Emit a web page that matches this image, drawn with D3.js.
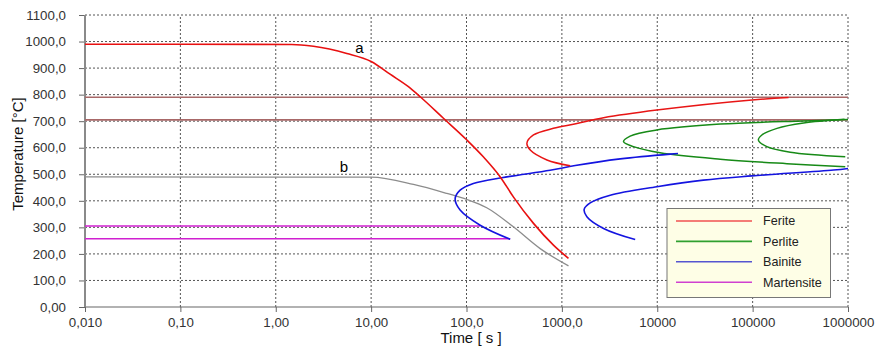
<!DOCTYPE html>
<html>
<head>
<meta charset="utf-8">
<script src="https://cdn.jsdelivr.net/npm/d3@7"></script>
<style>
  body { margin: 0; background: #fff; }
  svg { display: block; font-family: "Liberation Sans", Arial, sans-serif; }
  .grid line { stroke: #555; stroke-dasharray: 2,2; stroke-width: 1; }
  .axis text { fill: #333; font-size: 13.3px; }
  .axis path { display: none; }
  .axis line { stroke: #666; }
</style>
</head>
<body>
<svg id="chart"></svg>
<script>
// tick values and labels
var timeTicks = [0.01, 0.1, 1, 10, 100, 1000, 10000, 100000, 1000000];
var timeLabels = ['0,010', '0,10', '1,00', '10,00', '100,0', '1000,0', '10000', '100000', '1000000'];
var tempTicks = [0, 100, 200, 300, 400, 500, 600, 700, 800, 900, 1000, 1100];
var tempLabels = ['0,00', '100,0', '200,0', '300,0', '400,0', '500,0', '600,0', '700,0', '800,0', '900,0', '1000,0', '1100,0'];

// cooling curves [time s, temperature °C]
var curveA = [[0.01, 990], [1.47, 989], [2.48, 982], [5.56, 955], [10, 925],
  [15.8, 877], [24.6, 830], [32.7, 792], [57.3, 711], [101, 629], [150, 566], [225, 491],
  [310, 415], [504, 315], [816, 233], [1173, 183]];
var curveB = [[0.01, 490], [10, 489], [27.8, 462], [62.2, 428], [101, 405],
  [163, 374], [310, 302], [592, 220], [1173, 155]];

// transformation curves
var ferite = [[1222, 532], [697, 554], [466, 591], [430, 617], [504, 648], [816, 673], [1400, 690],
  [2736, 713], [9900, 742], [98400, 780], [238000, 789]];
var perlite1 = [[1000000, 706], [342000, 701], [45700, 689], [9900, 667], [5200, 644], [4430, 623],
  [5640, 604], [10700, 581], [45700, 557], [229000, 540], [936000, 528]];
var perlite2 = [[920000, 707], [342000, 693], [180000, 673], [125000, 648], [115000, 629],
  [141000, 604], [248000, 583], [936000, 566]];
var bainite1 = [[287, 255], [139, 308], [85.7, 365], [76, 407], [85.7, 440], [118, 465], [234, 487],
  [753, 515], [1380, 533], [4093, 558], [13680, 576], [16500, 578]];
var bainite2 = [[5870, 254], [2736, 296], [1829, 340], [1713, 368], [1982, 392], [3214, 421],
  [9900, 453], [30500, 478], [98400, 494], [706000, 516], [1000000, 522]];
var martensite1 = [[0.01, 305], [139, 305]];
var martensite2 = [[0.01, 257], [287, 257]];

// critical temperatures (Ac3, Ac1)
var criticalTemps = [790, 705];

var legendNames = ['Ferite', 'Perlite', 'Bainite', 'Martensite'];
var legendColors = ['#f05050', '#30a030', '#5555d0', '#d040d0'];

var width = 877, height = 352;
var margin = { left: 85, right: 29, top: 15, bottom: 45 };

var svg = d3.select('#chart').attr('width', width).attr('height', height);

var x = d3.scaleLog().domain([0.01, 1000000]).range([margin.left, width - margin.right]);
var y = d3.scaleLinear().domain([0, 1100]).range([height - margin.bottom, margin.top]);

svg.append('clipPath').attr('id', 'plot')
  .append('rect')
  .attr('x', margin.left).attr('y', margin.top)
  .attr('width', width - margin.left - margin.right)
  .attr('height', height - margin.top - margin.bottom);

// grid
var grid = svg.append('g').attr('class', 'grid');
grid.selectAll('.gx').data(timeTicks.slice(1)).enter().append('line')
  .attr('x1', function (d) { return x(d); }).attr('x2', function (d) { return x(d); })
  .attr('y1', y(0)).attr('y2', y(1100));
grid.selectAll('.gy').data(tempTicks.slice(1)).enter().append('line')
  .attr('x1', x(0.01)).attr('x2', x(1000000))
  .attr('y1', function (d) { return y(d); }).attr('y2', function (d) { return y(d); });

// axes
svg.append('g').attr('class', 'axis')
  .attr('transform', 'translate(0,' + y(0) + ')')
  .call(d3.axisBottom(x).tickValues(timeTicks).tickSize(5).tickPadding(6)
    .tickFormat(function (d, i) { return timeLabels[i]; }));
svg.append('g').attr('class', 'axis')
  .attr('transform', 'translate(' + x(0.01) + ',0)')
  .call(d3.axisLeft(y).tickValues(tempTicks).tickSize(6).tickPadding(13)
    .tickFormat(function (d, i) { return tempLabels[i]; }));

svg.append('line')
  .attr('x1', x(0.01)).attr('x2', x(1000000)).attr('y1', y(0)).attr('y2', y(0))
  .attr('stroke', '#666').attr('stroke-width', 1.2);
svg.append('line')
  .attr('x1', x(0.01)).attr('x2', x(0.01)).attr('y1', y(0)).attr('y2', y(1100))
  .attr('stroke', '#8a8a8a').attr('stroke-width', 2);

// critical lines
svg.selectAll('.crit').data(criticalTemps).enter().append('line')
  .attr('x1', x(0.01)).attr('x2', x(1000000))
  .attr('y1', function (d) { return y(d); }).attr('y2', function (d) { return y(d); })
  .attr('stroke', '#a86868').attr('stroke-width', 1.6);

// C-curves turn back on themselves, cooling curves do not
var loopLine = d3.line()
  .x(function (d) { return x(d[0]); })
  .y(function (d) { return y(d[1]); })
  .curve(d3.curveCatmullRom.alpha(0.5));
var coolLine = d3.line()
  .x(function (d) { return x(d[0]); })
  .y(function (d) { return y(d[1]); })
  .curve(d3.curveMonotoneX);

var plot = svg.append('g').attr('clip-path', 'url(#plot)');

function drawCurve(data, gen, color, w) {
  plot.append('path').datum(data)
    .attr('d', gen)
    .attr('fill', 'none')
    .attr('stroke', color)
    .attr('stroke-width', w);
}

drawCurve(curveB, coolLine, '#8c8c8c', 1.3);
drawCurve(martensite1, coolLine, '#d020d0', 1.6);
drawCurve(martensite2, coolLine, '#d020d0', 1.6);
drawCurve(perlite1, loopLine, '#178a17', 1.5);
drawCurve(perlite2, loopLine, '#178a17', 1.5);
drawCurve(bainite1, loopLine, '#1414e0', 1.6);
drawCurve(bainite2, loopLine, '#1414e0', 1.6);
drawCurve(ferite, loopLine, '#e81515', 1.5);
drawCurve(curveA, coolLine, '#e81010', 1.6);

// curve labels
svg.append('text').attr('x', x(6.8)).attr('y', y(957)).attr('font-size', '15px').text('a');
svg.append('text').attr('x', x(4.7)).attr('y', y(508)).attr('font-size', '15px').text('b');

// axis titles
svg.append('text')
  .attr('x', 471).attr('y', 343)
  .attr('text-anchor', 'middle').attr('font-size', '15px').attr('fill', '#111')
  .text('Time [ s ]');
svg.append('text')
  .attr('transform', 'translate(23,154) rotate(-90)')
  .attr('text-anchor', 'middle').attr('font-size', '15px').attr('fill', '#111')
  .text('Temperature [°C]');

// legend
var legend = svg.append('g').attr('transform', 'translate(667,208.5)');
legend.append('rect')
  .attr('width', 163.5).attr('height', 89)
  .attr('fill', '#fefee6').attr('stroke', '#777').attr('stroke-width', 1);
var items = legend.selectAll('.item').data(legendNames).enter().append('g')
  .attr('transform', function (d, i) { return 'translate(0,' + (12.5 + i * 20.4) + ')'; });
items.append('line')
  .attr('x1', 9).attr('x2', 85)
  .attr('stroke', function (d, i) { return legendColors[i]; })
  .attr('stroke-width', 1.6);
items.append('text')
  .attr('x', 96).attr('dy', '0.35em')
  .attr('font-size', '12.6px').attr('fill', '#222')
  .text(function (d) { return d; });
</script>
</body>
</html>
